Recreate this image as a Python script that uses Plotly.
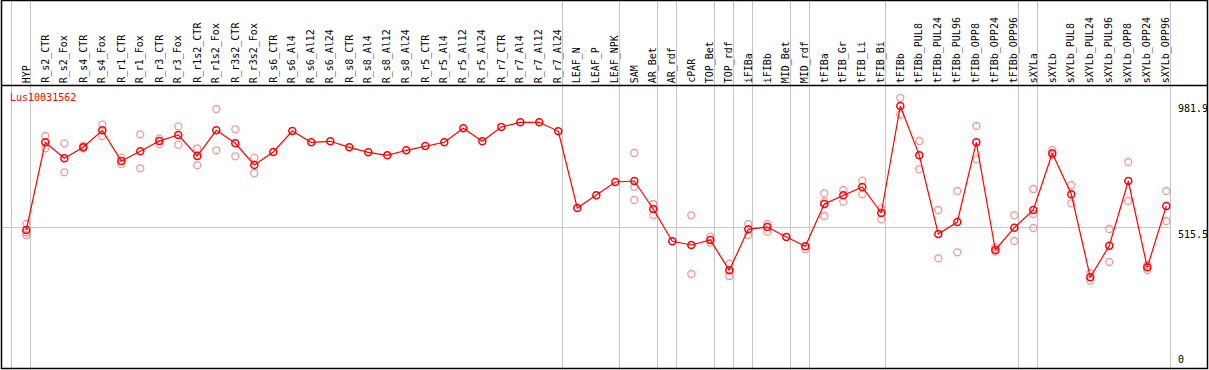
import plotly.graph_objects as go

gene = "Lus10031562"

categories = [
    "HYP", "R_s2_CTR", "R_s2_Fox", "R_s4_CTR", "R_s4_Fox", "R_r1_CTR", "R_r1_Fox",
    "R_r3_CTR", "R_r3_Fox", "R_r1s2_CTR", "R_r1s2_Fox", "R_r3s2_CTR", "R_r3s2_Fox",
    "R_s6_CTR", "R_s6_Al4", "R_s6_Al12", "R_s6_Al24", "R_s8_CTR", "R_s8_Al4",
    "R_s8_Al12", "R_s8_Al24", "R_r5_CTR", "R_r5_Al4", "R_r5_Al12", "R_r5_Al24",
    "R_r7_CTR", "R_r7_Al4", "R_r7_Al12", "R_r7_Al24", "LEAF_N", "LEAF_P", "LEAF_NPK",
    "SAM", "AR_Bet", "AR_rdf", "cPAR", "TOP_Bet", "TOP_rdf", "iFIBa", "iFIBb",
    "MID_Bet", "MID_rdf", "tFIBa", "tFIB_Gr", "tFIB_Li", "tFIB_Bi", "tFIBb",
    "tFIBb_PUL8", "tFIBb_PUL24", "tFIBb_PUL96", "tFIBb_OPP8", "tFIBb_OPP24",
    "tFIBb_OPP96", "sXYLa", "sXYLb", "sXYLb_PUL8", "sXYLb_PUL24", "sXYLb_PUL96",
    "sXYLb_OPP8", "sXYLb_OPP24", "sXYLb_OPP96",
]

means = [
    506.5, 833.1, 773.6, 814.5, 877.8, 763.5, 799.6, 838.0, 860.3, 782.1,
    877.8, 829.4, 748.6, 797.0, 875.2, 833.1, 836.9, 814.5, 795.9, 784.7,
    803.4, 819.4, 833.1, 885.3, 836.9, 890.1, 907.6, 907.6, 874.1, 588.5,
    635.8, 685.3, 689.0, 584.7, 464.4, 450.7, 469.3, 356.4, 509.1, 517.7,
    480.4, 445.8, 603.4, 635.8, 666.7, 569.8, 968.3, 784.7, 491.6, 536.3,
    833.1, 432.0, 515.1, 581.0, 792.2, 639.5, 330.4, 448.0, 689.0, 367.6,
    595.9,
]

rep_cat = [
    "HYP", "HYP", "HYP", "R_s2_CTR", "R_s2_CTR", "R_s2_Fox", "R_s2_Fox",
    "R_s4_CTR", "R_s4_CTR", "R_s4_Fox", "R_s4_Fox", "R_r1_CTR", "R_r1_CTR",
    "R_r1_Fox", "R_r1_Fox", "R_r3_CTR", "R_r3_CTR", "R_r3_Fox", "R_r3_Fox",
    "R_r1s2_CTR", "R_r1s2_CTR", "R_r1s2_Fox", "R_r1s2_Fox", "R_r3s2_CTR", "R_r3s2_CTR",
    "R_r3s2_Fox", "R_r3s2_Fox",
    "SAM", "SAM", "SAM", "AR_Bet", "AR_Bet", "cPAR", "cPAR", "TOP_Bet", "TOP_Bet",
    "TOP_rdf", "TOP_rdf", "iFIBa", "iFIBa", "iFIBb", "iFIBb", "MID_rdf",
    "tFIBa", "tFIBa", "tFIBa", "tFIB_Gr", "tFIB_Gr", "tFIB_Li", "tFIB_Li",
    "tFIB_Bi", "tFIB_Bi", "tFIBb", "tFIBb", "tFIBb_PUL8", "tFIBb_PUL8",
    "tFIBb_PUL24", "tFIBb_PUL24", "tFIBb_PUL96", "tFIBb_PUL96", "tFIBb_OPP8", "tFIBb_OPP8",
    "tFIBb_OPP24", "tFIBb_OPP24", "tFIBb_OPP96", "tFIBb_OPP96",
    "sXYLa", "sXYLa", "sXYLa", "sXYLb", "sXYLb", "sXYLb_PUL8", "sXYLb_PUL8",
    "sXYLb_PUL24", "sXYLb_PUL24", "sXYLb_PUL96", "sXYLb_PUL96", "sXYLb_OPP8", "sXYLb_OPP8",
    "sXYLb_OPP24", "sXYLb_OPP24", "sXYLb_OPP96", "sXYLb_OPP96",
]
rep_val = [
    528.9, 487.9, 497.2, 856.6, 810.8, 829.4, 721.4,
    820.5, 810.8, 898.7, 856.6, 775.8, 752.3,
    862.9, 736.3, 846.6, 826.8, 892.7, 824.2,
    810.8, 747.5, 957.2, 803.4, 881.6, 781.0,
    775.8, 717.7,
    793.3, 618.2, 667.8, 603.4, 562.4, 561.3, 342.6, 481.6, 459.2,
    381.0, 335.2, 528.9, 487.9, 528.9, 500.2, 434.6,
    643.2, 558.7, 611.9, 655.5, 611.9, 690.1, 639.5,
    587.3, 546.4, 998.9, 936.7, 838.0, 732.6,
    581.0, 401.1, 651.8, 423.5, 893.9, 769.8,
    442.1, 425.7, 561.3, 465.5,
    659.2, 514.0, 566.1, 804.5, 785.8, 674.1, 606.0,
    345.3, 317.7, 510.2, 387.3, 759.8, 614.5,
    376.2, 357.5, 651.8, 540.0,
]

# groups end after these categories (separator lines)
group_ends = ["HYP", "R_r7_Al24", "LEAF_NPK", "AR_Bet", "AR_rdf", "TOP_Bet", "TOP_rdf",
              "iFIBa", "MID_Bet", "MID_rdf", "tFIB_Bi", "tFIBb_OPP96", "sXYLa", "sXYLb_OPP96"]
y_ticks = [0, 515.5, 981.9]
y_tick_labels = ["0", "515.5", "981.9"]

W, H = 1209, 370
pos = {c: i for i, c in enumerate(categories)}
x_main = [pos[c] for c in categories]
x_rep = [pos[c] for c in rep_cat]

# pixel mapping helpers (layout only)
X0, DX = 26.3, 19.0
Y0, KY = 366.0, 0.2685
x_range = [(0 - X0) / DX, (W - X0) / DX]
y_range = [(Y0 - H) / KY, Y0 / KY]
sep_off = 0.22


def py(p):
    return 1 - p / H


def px(p):
    return p / W


fig = go.Figure()

shapes = []
seps = [-1] + [pos[c] for c in group_ends]
for s in seps:
    shapes.append(dict(type="line", xref="x", yref="paper", x0=s + sep_off, x1=s + sep_off,
                       y0=0, y1=1, line=dict(color="#c4c4c4", width=1), layer="below"))
shapes.append(dict(type="line", xref="x", yref="y", x0=x_range[0],
                   x1=pos[categories[-1]] + sep_off, y0=y_ticks[1], y1=y_ticks[1],
                   line=dict(color="#c4c4c4", width=1), layer="below"))
shapes.append(dict(type="rect", xref="paper", yref="paper", x0=px(1.5), x1=px(1207.5),
                   y0=py(368.5), y1=py(0.5), line=dict(color="black", width=1.5),
                   fillcolor="rgba(0,0,0,0)"))
shapes.append(dict(type="line", xref="paper", yref="paper", x0=px(1.5), x1=px(1207.5),
                   y0=py(85.5), y1=py(85.5), line=dict(color="black", width=1.5)))

fig.add_trace(go.Scatter(
    x=x_rep, y=rep_val, mode="markers",
    marker=dict(symbol="circle-open", size=7, color="#ee9a9a", line=dict(width=1.3, color="#ee9a9a")),
    hoverinfo="skip", showlegend=False,
))
fig.add_trace(go.Scatter(
    x=x_main, y=means, mode="lines+markers",
    line=dict(color="#ff0000", width=1.2),
    marker=dict(symbol="circle-open", size=7, color="#ff0000", line=dict(width=1.5, color="#ff0000")),
    hoverinfo="skip", showlegend=False,
))

mono = "DejaVu Sans Mono"
annotations = []
for c in categories:
    annotations.append(dict(x=pos[c], y=py(84), xref="x", yref="paper", text=c, textangle=-90,
                            showarrow=False, xanchor="center", yanchor="bottom",
                            font=dict(family=mono, size=10, color="black"), borderpad=0))
annotations.append(dict(x=px(9), y=py(97.5), xref="paper", yref="paper", text=gene,
                        showarrow=False, xanchor="left", yanchor="middle",
                        font=dict(family=mono, size=10, color="#ff0000"), borderpad=0))
for v, t in zip(y_ticks, y_tick_labels):
    annotations.append(dict(x=px(1177), y=v, xref="paper", yref="y", text=t, showarrow=False,
                            xanchor="left", yanchor="bottom" if v == 0 else "top",
                            font=dict(family=mono, size=10, color="black"), borderpad=0))

fig.update_layout(
    width=W, height=H, margin=dict(l=0, r=0, t=0, b=0),
    paper_bgcolor="white", plot_bgcolor="white",
    xaxis=dict(visible=False, range=x_range, fixedrange=True),
    yaxis=dict(visible=False, range=y_range, fixedrange=True),
    shapes=shapes, annotations=annotations, hovermode=False,
)

fig.write_html("out.html", config={"displayModeBar": False},
               post_script="document.body.style.margin='0';document.body.style.overflow='hidden';")
